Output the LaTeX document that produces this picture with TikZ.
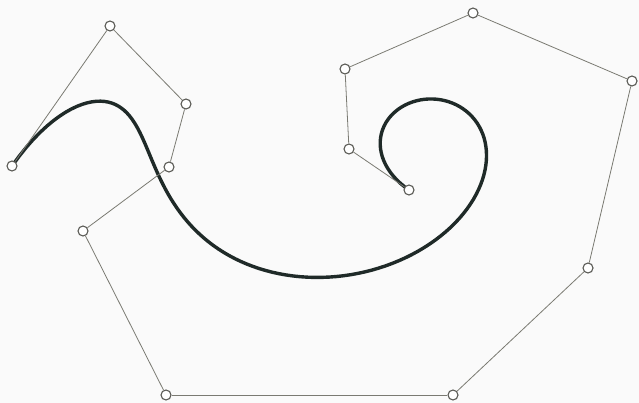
\documentclass[tikz,border=0pt]{standalone}
\usepackage{tikz}

% degree-12 Bezier curve over the 13 control points (pixel coordinates)
\newcommand\curvex[1]{\fpeval{round(
   12*(1-#1)^12 + 12*110*#1*(1-#1)^11 + 66*186*#1^2*(1-#1)^10
 + 220*169*#1^3*(1-#1)^9 + 495*83*#1^4*(1-#1)^8 + 792*166*#1^5*(1-#1)^7
 + 924*453*#1^6*(1-#1)^6 + 792*588*#1^7*(1-#1)^5 + 495*632*#1^8*(1-#1)^4
 + 220*473*#1^9*(1-#1)^3 + 66*345*#1^10*(1-#1)^2 + 12*349*#1^11*(1-#1)
 + 409*#1^12, 3)}}
\newcommand\curvey[1]{\fpeval{round(
   166*(1-#1)^12 + 12*26*#1*(1-#1)^11 + 66*104*#1^2*(1-#1)^10
 + 220*167*#1^3*(1-#1)^9 + 495*231*#1^4*(1-#1)^8 + 792*395*#1^5*(1-#1)^7
 + 924*395*#1^6*(1-#1)^6 + 792*268*#1^7*(1-#1)^5 + 495*81*#1^8*(1-#1)^4
 + 220*13*#1^9*(1-#1)^3 + 66*69*#1^10*(1-#1)^2 + 12*149*#1^11*(1-#1)
 + 190*#1^12, 3)}}

\definecolor{bgcol}{HTML}{FAFAFA}
\definecolor{curvecol}{HTML}{1F2A28}
\definecolor{polycol}{HTML}{7A7A72}
\definecolor{ptcol}{HTML}{5A5A55}

\begin{document}
\begin{tikzpicture}[
    x=1pt, y=-1pt,
    ctrl/.style={circle, draw=ptcol, line width=1.1pt, fill=white, minimum size=10pt, inner sep=0pt},
    poly/.style={draw=polycol, line width=0.8pt},
    curve/.style={draw=curvecol, line width=3.4pt, line join=round, line cap=round}
]
\fill[bgcol] (0,0) rectangle (639,403);
\useasboundingbox (0,0) rectangle (639,403);

% Curve
\def\curvepath{(\curvex{0},\curvey{0})}
\foreach \s in {1,...,160}{
  \xdef\curvepath{\curvepath -- (\curvex{(\s/160)},\curvey{(\s/160)})}
}
\draw[curve] \curvepath;

% Control points
\node[ctrl] (p0) at (12,166) {};
\node[ctrl] (p1) at (110,26) {};
\node[ctrl] (p2) at (186,104) {};
\node[ctrl] (p3) at (169,167) {};
\node[ctrl] (p4) at (83,231) {};
\node[ctrl] (p5) at (166,395) {};
\node[ctrl] (p6) at (453,395) {};
\node[ctrl] (p7) at (588,268) {};
\node[ctrl] (p8) at (632,81) {};
\node[ctrl] (p9) at (473,13) {};
\node[ctrl] (p10) at (345,69) {};
\node[ctrl] (p11) at (349,149) {};
\node[ctrl] (p12) at (409,190) {};

% Control polygon
\foreach \a [evaluate=\a as \b using int(\a+1)] in {0,...,11}
  \draw[poly] (p\a) -- (p\b);

\end{tikzpicture}
\end{document}
